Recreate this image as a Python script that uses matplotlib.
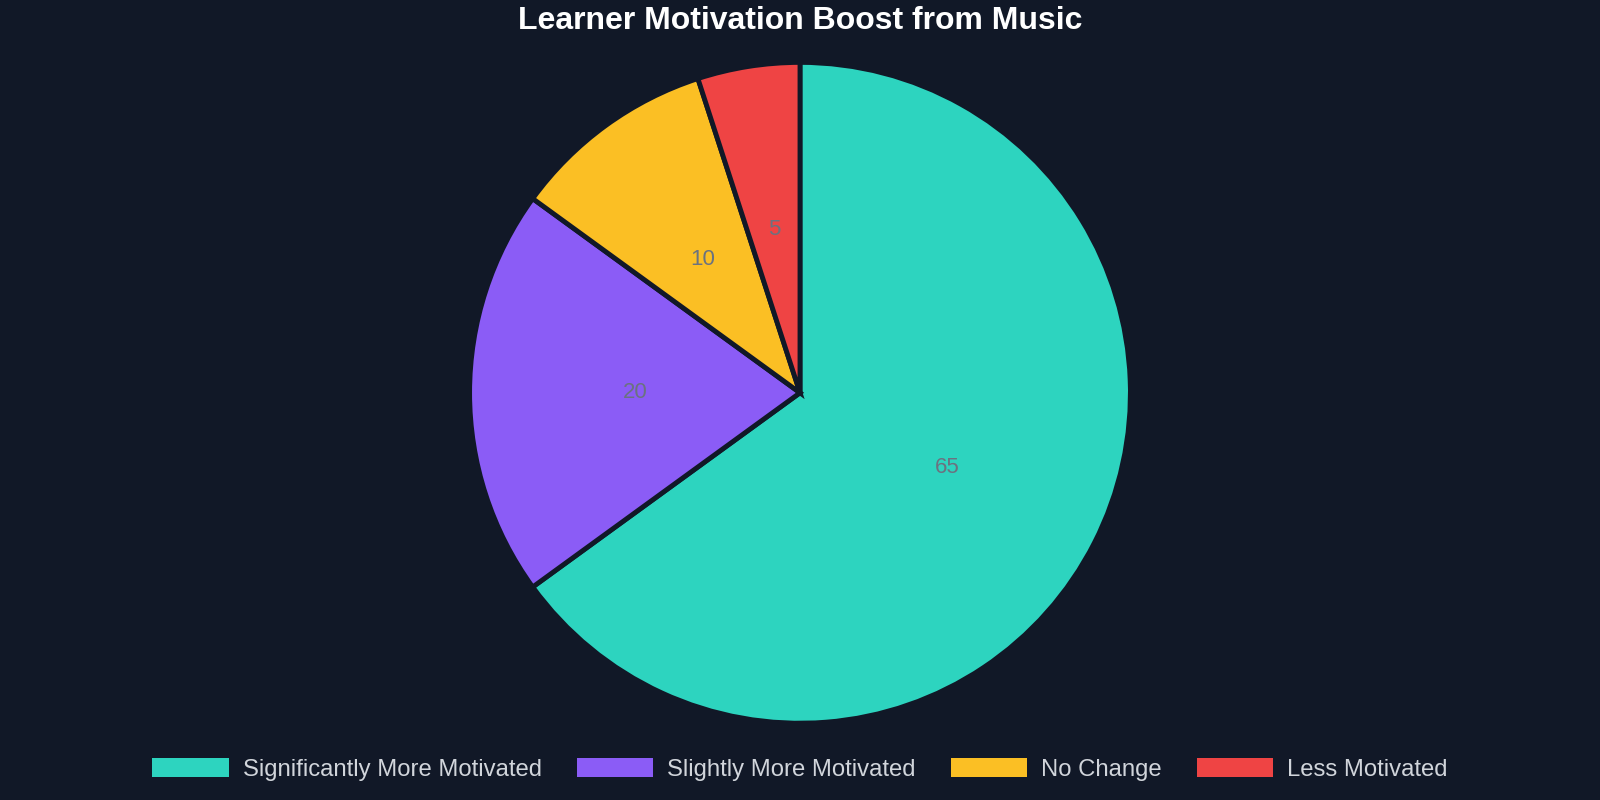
import numpy as np
import matplotlib.pyplot as plt
from matplotlib.patches import Patch

plt.rcParams['font.family'] = ['Liberation Sans', 'DejaVu Sans']

# Data
labels = ['Significantly More Motivated', 'Slightly More Motivated', 'No Change', 'Less Motivated']
values = [65, 20, 10, 5]
colors = ['#2dd4bf', '#8b5cf6', '#fbbf24', '#ef4444']

BG = '#111827'

fig = plt.figure(figsize=(16, 8), dpi=100, facecolor=BG)
ax = fig.add_axes([0.2935, 0.096, 0.413, 0.826])
ax.set_facecolor(BG)

wedges, texts = ax.pie(values, colors=colors, startangle=90, counterclock=False,
                       radius=1.0,
                       wedgeprops=dict(edgecolor=BG, linewidth=3.5))

# value labels at half radius
for w, v in zip(wedges, values):
    ang = np.deg2rad((w.theta1 + w.theta2) / 2)
    ax.text(0.5 * np.cos(ang), 0.5 * np.sin(ang), str(v), ha='center', va='center',
            fontsize=16, color='#6b7280')

ax.set_xlim(-1, 1)
ax.set_ylim(-1, 1)
ax.set_aspect('equal')
ax.axis('off')

fig.suptitle('Learner Motivation Boost from Music', y=0.993, va='top',
             fontsize=23, fontweight='bold', color='white')

handles = [Patch(facecolor=c, edgecolor='none') for c in colors]
fig.legend(handles, labels, loc='center', bbox_to_anchor=(0.5, 0.038), ncol=4,
           frameon=False, fontsize=17.2, labelcolor='#d1d5db',
           handlelength=3.2, handleheight=0.85, handletextpad=0.6, columnspacing=1.45)

fig.savefig('out.png', facecolor=BG)
